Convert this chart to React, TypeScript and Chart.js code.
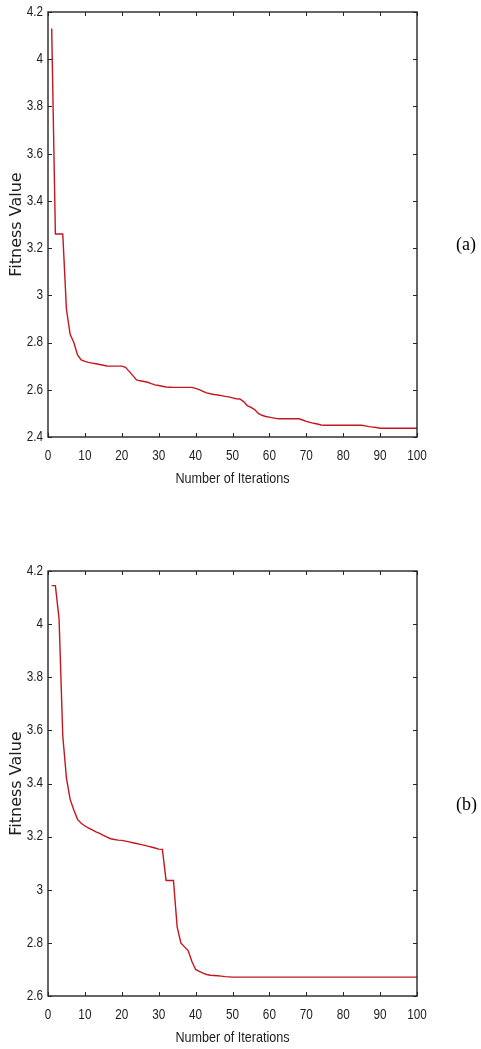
import React, { useEffect, useRef } from "react";
import { Chart, registerables } from "chart.js";

Chart.register(...registerables);

// ---------- data ----------
const xTickLabels = [0, 10, 20, 30, 40, 50, 60, 70, 80, 90, 100];
const yTicksA = [2.4, 2.6, 2.8, 3, 3.2, 3.4, 3.6, 3.8, 4, 4.2];
const yTicksB = [2.6, 2.8, 3, 3.2, 3.4, 3.6, 3.8, 4, 4.2];
const xTitle = "Number of Iterations";
const yTitle = "Fitness Value";

// fitness value per iteration (iterations 1..100), panel (a)
const fitnessA = [
  4.13, 3.26, 3.26, 3.26, 2.94, 2.835, 2.8, 2.748, 2.726, 2.72,
  2.716, 2.713, 2.71, 2.707, 2.704, 2.701, 2.7, 2.7, 2.7, 2.7,
  2.695, 2.678, 2.66, 2.642, 2.638, 2.635, 2.632, 2.626, 2.621, 2.618,
  2.615, 2.612, 2.611, 2.61, 2.61, 2.61, 2.61, 2.61, 2.61, 2.606,
  2.601, 2.593, 2.587, 2.583, 2.58, 2.578, 2.575, 2.572, 2.57, 2.566,
  2.562, 2.561, 2.55, 2.533, 2.525, 2.516, 2.5, 2.492, 2.487, 2.484,
  2.481, 2.478, 2.477, 2.477, 2.477, 2.477, 2.477, 2.477, 2.472, 2.466,
  2.462, 2.458, 2.455, 2.451, 2.45, 2.45, 2.45, 2.45, 2.45, 2.45,
  2.45, 2.45, 2.45, 2.45, 2.45, 2.447, 2.444, 2.442, 2.44, 2.437,
  2.437, 2.437, 2.437, 2.437, 2.437, 2.437, 2.437, 2.437, 2.437, 2.437,
];

// fitness value per iteration (iterations 1..100), panel (b)
const fitnessB = [
  4.145, 4.145, 4.02, 3.58, 3.42, 3.34, 3.3, 3.265, 3.25, 3.24,
  3.232, 3.225, 3.218, 3.212, 3.205, 3.198, 3.192, 3.189, 3.187, 3.186,
  3.183, 3.18, 3.177, 3.174, 3.171, 3.168, 3.164, 3.161, 3.157, 3.153,
  3.152, 3.035, 3.035, 3.035, 2.86, 2.8, 2.785, 2.77, 2.73, 2.7,
  2.693, 2.686, 2.681, 2.678, 2.677, 2.676, 2.675, 2.673, 2.672, 2.671,
  2.671, 2.671, 2.671, 2.671, 2.671, 2.671, 2.671, 2.671, 2.671, 2.671,
  2.671, 2.671, 2.671, 2.671, 2.671, 2.671, 2.671, 2.671, 2.671, 2.671,
  2.671, 2.671, 2.671, 2.671, 2.671, 2.671, 2.671, 2.671, 2.671, 2.671,
  2.671, 2.671, 2.671, 2.671, 2.671, 2.671, 2.671, 2.671, 2.671, 2.671,
  2.671, 2.671, 2.671, 2.671, 2.671, 2.671, 2.671, 2.671, 2.671, 2.671,
];

// ---------- styles ----------
const AXIS_COLOR = "#262626";
const TEXT_COLOR = "#1e1e1e";
const LINE_COLOR = "#c4161f";
const SANS = "'Liberation Sans', Arial, Helvetica, sans-serif";
const SQUEEZE = 0.84; // the original figure is narrowed horizontally

const fmt = (v: number) => String(parseFloat(Number(v).toFixed(1)));

function squeezedText(ctx: CanvasRenderingContext2D, text: string, x: number, y: number, align: CanvasTextAlign) {
  ctx.save();
  ctx.translate(x, y);
  ctx.scale(SQUEEZE, 1);
  ctx.textAlign = align;
  ctx.textBaseline = "middle";
  ctx.fillText(text, 0, 0);
  ctx.restore();
}

const framePlugin = {
  id: "matlabFrame",
  afterDraw(chart: any, _args: any, opts: any) {
    const { ctx, chartArea: a, scales } = chart;
    const tl = 4;
    ctx.save();
    // box
    ctx.strokeStyle = AXIS_COLOR;
    ctx.lineWidth = 1.4;
    ctx.strokeRect(a.left, a.top, a.right - a.left, a.bottom - a.top);
    // inward ticks on all four sides
    ctx.lineWidth = 1;
    ctx.beginPath();
    for (const t of scales.x.ticks) {
      const px = Math.round(scales.x.getPixelForValue(t.value)) + 0.5;
      ctx.moveTo(px, a.bottom);
      ctx.lineTo(px, a.bottom - tl);
      ctx.moveTo(px, a.top);
      ctx.lineTo(px, a.top + tl);
    }
    for (const t of scales.y.ticks) {
      const py = Math.round(scales.y.getPixelForValue(t.value)) + 0.5;
      ctx.moveTo(a.left, py);
      ctx.lineTo(a.left + tl, py);
      ctx.moveTo(a.right, py);
      ctx.lineTo(a.right - tl, py);
    }
    ctx.stroke();
    // tick labels
    ctx.fillStyle = TEXT_COLOR;
    ctx.font = `14px ${SANS}`;
    for (const t of scales.x.ticks) {
      squeezedText(ctx, fmt(t.value), scales.x.getPixelForValue(t.value), a.bottom + opts.xLabelOffset, "center");
    }
    for (const t of scales.y.ticks) {
      squeezedText(ctx, fmt(t.value), a.left - 5, scales.y.getPixelForValue(t.value), "right");
    }
    // x title
    ctx.font = `15px ${SANS}`;
    squeezedText(ctx, xTitle, (a.left + a.right) / 2, a.bottom + opts.xTitleOffset, "center");
    ctx.restore();
  },
};

type PanelProps = {
  values: number[];
  yTicks: number[];
  top: number;
  height: number;
  padTop: number;
  axisH: number;
  xLabelOffset: number;
  xTitleOffset: number;
};

function Panel({ values, yTicks, top, height, padTop, axisH, xLabelOffset, xTitleOffset }: PanelProps) {
  const ref = useRef<HTMLCanvasElement | null>(null);

  useEffect(() => {
    if (!ref.current) return;
    const chart = new Chart(ref.current, {
      type: "line",
      data: {
        datasets: [
          {
            data: values.map((v, i) => ({ x: i + 1, y: v })),
            borderColor: LINE_COLOR,
            borderWidth: 1.4,
            pointRadius: 0,
            fill: false,
            tension: 0,
          },
        ],
      },
      options: {
        responsive: false,
        animation: false,
        maintainAspectRatio: false,
        layout: { padding: { top: padTop, right: 64, left: 0, bottom: 0 } },
        plugins: {
          legend: { display: false },
          tooltip: { enabled: false },
          matlabFrame: { xLabelOffset, xTitleOffset },
        },
        scales: {
          x: {
            type: "linear",
            min: xTickLabels[0],
            max: xTickLabels[xTickLabels.length - 1],
            afterBuildTicks: (s: any) => {
              s.ticks = xTickLabels.map((v) => ({ value: v }));
            },
            afterFit: (s: any) => {
              s.height = axisH;
            },
            grid: { display: false, drawTicks: false },
            border: { display: false },
            ticks: { display: false },
          },
          y: {
            type: "linear",
            min: yTicks[0],
            max: yTicks[yTicks.length - 1],
            afterBuildTicks: (s: any) => {
              s.ticks = yTicks.map((v) => ({ value: v }));
            },
            afterFit: (s: any) => {
              s.width = 48;
            },
            grid: { display: false, drawTicks: false },
            border: { display: false },
            ticks: { display: false },
            title: {
              display: true,
              text: yTitle,
              font: { family: "'DejaVu Sans', sans-serif", size: 16 },
              color: TEXT_COLOR,
              padding: { top: 7.5, bottom: 0 },
            },
          },
        },
      },
      plugins: [framePlugin],
    } as any);
    return () => chart.destroy();
  }, []);

  return (
    <canvas
      ref={ref}
      width={481}
      height={height}
      style={{ position: "absolute", left: 0, top, width: 481, height }}
    />
  );
}

const labelStyle: React.CSSProperties = {
  position: "absolute",
  left: 456,
  fontFamily: "'Liberation Serif', 'Times New Roman', serif",
  fontSize: 18,
  lineHeight: "20px",
  color: "#000",
  whiteSpace: "nowrap",
};

export default function App() {
  return (
    <div
      style={{
        position: "absolute",
        left: 0,
        top: 0,
        width: 481,
        height: 1049,
        overflow: "hidden",
        background: "#fff",
      }}
    >
      <Panel values={fitnessA} yTicks={yTicksA} top={0} height={500} padTop={12} axisH={63} xLabelOffset={19} xTitleOffset={42} />
      <Panel values={fitnessB} yTicks={yTicksB} top={520} height={529} padTop={51} axisH={53} xLabelOffset={19} xTitleOffset={42} />
      <div style={{ ...labelStyle, top: 234 }}>(a)</div>
      <div style={{ ...labelStyle, top: 794 }}>(b)</div>
    </div>
  );
}
